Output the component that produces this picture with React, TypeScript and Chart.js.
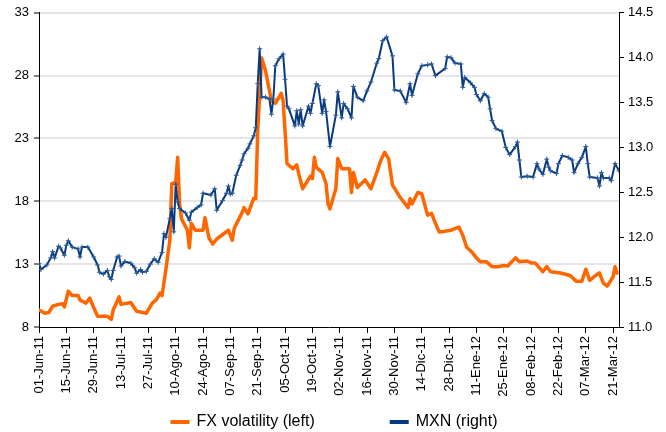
import React, { useEffect, useRef } from "react";
import { Chart, registerables } from "chart.js";

Chart.register(...registerables);

// X axis: days since 01-Jun-11, labelled every 14 days
const tickLabels = [
  "01-Jun-11", "15-Jun-11", "29-Jun-11", "13-Jul-11", "27-Jul-11", "10-Ago-11",
  "24-Ago-11", "07-Sep-11", "21-Sep-11", "05-Oct-11", "19-Oct-11", "02-Nov-11",
  "16-Nov-11", "30-Nov-11", "14-Dic-11", "28-Dic-11", "11-Ene-12", "25-Ene-12",
  "08-Feb-12", "22-Feb-12", "07-Mar-12", "21-Mar-12",
];
const tickStep = 14;
const xMaxDay = 297;

// FX volatility (left axis)
const fxDays = [
  0, 3, 5, 7, 10, 12, 13, 15, 17, 20, 21, 24, 26, 28, 30, 35, 37, 38, 41, 42,
  47, 50, 55, 58, 60, 62, 63, 65, 67, 68, 70, 71, 72, 73, 76, 77, 78, 80, 84, 85,
  87, 89, 91, 97, 99, 100, 104, 105, 107, 110, 111, 112, 114, 116, 117, 119, 121, 123, 124, 125,
  126, 127, 130, 132, 133, 135, 139, 140, 141, 142, 145, 147, 148, 149, 152, 153, 155, 159, 160, 161,
  163, 167, 170, 173, 175, 177, 179, 181, 185, 189, 190, 191, 194, 196, 199, 201, 203, 205, 211, 215,
  217, 219, 222, 224, 226, 229, 232, 235, 238, 240, 244, 246, 250, 252, 254, 258, 260, 262, 267, 272,
  275, 278, 280, 282, 285, 287, 289, 291, 294, 295, 296,
];
const fxValues = [
  9.35, 9.1, 9.15, 9.65, 9.8, 9.85, 9.6, 10.85, 10.5, 10.5, 10.15, 9.9, 10.3, 9.55, 8.85, 8.85, 8.6, 9.35, 10.4, 9.8,
  9.95, 9.25, 9.1, 9.9, 10.15, 10.7, 10.5, 12.6, 14.9, 19.4, 19.5, 21.5, 17.8, 16.6, 15.7, 14.3, 16.25, 15.7, 15.7, 16.7,
  15.1, 14.6, 15.0, 15.7, 14.9, 15.85, 17.1, 17.5, 17.0, 18.25, 18.2, 23.6, 29.4, 28.4, 27.6, 26.0, 25.8, 26.3, 26.6, 26.0,
  23.6, 21.0, 20.6, 20.9, 20.2, 19.0, 20.0, 19.8, 21.5, 20.7, 20.3, 19.4, 17.8, 17.4, 19.0, 21.4, 20.6, 20.6, 18.7, 20.3,
  19.1, 19.7, 19.0, 20.3, 21.25, 21.9, 21.4, 19.3, 18.3, 17.5, 18.2, 17.8, 18.7, 18.6, 16.9, 17.05, 16.25, 15.55, 15.7, 15.95,
  15.3, 14.35, 13.9, 13.5, 13.2, 13.2, 12.8, 12.8, 12.9, 12.85, 13.5, 13.2, 13.25, 13.1, 13.1, 12.4, 12.8, 12.4, 12.3, 12.1,
  11.65, 11.65, 12.6, 11.7, 12.1, 12.3, 11.5, 11.25, 12.0, 12.8, 12.3,
];

// MXN (right axis)
const mxnDays = [
  0, 1, 4, 6, 7, 8, 10, 11, 13, 14, 15, 17, 20, 21, 22, 25, 28, 30, 31, 33,
  35, 36, 37, 38, 40, 41, 42, 44, 47, 49, 50, 52, 53, 55, 57, 59, 61, 63, 64, 65,
  67, 68, 69, 70, 71, 72, 75, 77, 78, 81, 83, 84, 88, 90, 91, 94, 96, 97, 98, 99,
  101, 103, 104, 105, 107, 108, 110, 111, 112, 113, 114, 116, 118, 119, 120, 121, 123, 125, 126, 127,
  128, 131, 132, 133, 134, 135, 138, 139, 140, 142, 143, 145, 146, 147, 149, 152, 153, 155, 156, 158,
  160, 161, 163, 166, 168, 170, 173, 174, 176, 178, 181, 182, 185, 188, 190, 191, 194, 196, 199, 201,
  203, 208, 209, 211, 213, 216, 217, 218, 221, 223, 224, 226, 228, 230, 231, 232, 234, 237, 239, 241,
  244, 245, 246, 247, 250, 253, 255, 256, 258, 260, 261, 262, 265, 266, 268, 271, 273, 274, 276, 278,
  280, 281, 282, 286, 287, 288, 289, 292, 293, 295, 297,
];
const mxnValues = [
  11.71, 11.64, 11.69, 11.77, 11.84, 11.77, 11.9, 11.88, 11.8, 11.91, 11.96, 11.89, 11.87, 11.78, 11.89, 11.89, 11.78, 11.69, 11.61, 11.59,
  11.63, 11.56, 11.53, 11.63, 11.78, 11.79, 11.68, 11.73, 11.71, 11.66, 11.6, 11.64, 11.61, 11.62, 11.7, 11.76, 11.72, 11.83, 12.04, 12.0,
  12.21, 12.32, 12.06, 12.59, 12.39, 12.32, 12.27, 12.19, 12.28, 12.33, 12.36, 12.49, 12.47, 12.54, 12.3, 12.41, 12.49, 12.57, 12.48, 12.49,
  12.69, 12.8, 12.86, 12.93, 12.99, 13.04, 13.13, 13.22, 13.71, 14.1, 13.56, 13.56, 13.54, 13.37, 13.54, 13.91, 13.99, 14.04, 13.76, 13.46,
  13.43, 13.24, 13.41, 13.26, 13.42, 13.24, 13.46, 13.38, 13.49, 13.71, 13.69, 13.38, 13.53, 13.4, 13.01, 13.36, 13.62, 13.33, 13.49, 13.43,
  13.33, 13.68, 13.56, 13.52, 13.63, 13.73, 13.94, 13.99, 14.19, 14.23, 14.02, 13.64, 13.63, 13.5, 13.71, 13.58, 13.82, 13.91, 13.92, 13.93,
  13.8, 13.88, 14.01, 14.0, 13.94, 13.93, 13.67, 13.78, 13.72, 13.67, 13.59, 13.52, 13.6, 13.56, 13.43, 13.3, 13.21, 13.18, 13.0, 12.92,
  13.01, 13.06, 12.86, 12.67, 12.68, 12.67, 12.82, 12.76, 12.7, 12.87, 12.78, 12.74, 12.71, 12.82, 12.91, 12.89, 12.86, 12.72, 12.82, 12.89,
  13.01, 12.82, 12.67, 12.66, 12.57, 12.72, 12.66, 12.66, 12.63, 12.82, 12.74,
];

const seriesNames = ["FX volatility (left)", "MXN (right)"];
const ORANGE = "#FF6600";
const NAVY = "#073A7E";
const FONT = '"Liberation Sans", Arial, sans-serif';

const legendPlugin = {
  id: "bottomLegend",
  afterDraw(chart: any) {
    const ctx = chart.ctx as CanvasRenderingContext2D;
    ctx.save();
    ctx.font = `16px ${FONT}`;
    ctx.textBaseline = "middle";
    ctx.textAlign = "left";
    const items = [
      { text: seriesNames[0], color: ORANGE },
      { text: seriesNames[1], color: NAVY },
    ];
    const swatchW = 19;
    const gapText = 7;
    const gapItem = 75;
    const widths = items.map((it) => swatchW + gapText + ctx.measureText(it.text).width);
    const total = widths.reduce((a, b) => a + b, 0) + gapItem;
    let x = (chart.width - total) / 2 + 1;
    const y = 422;
    items.forEach((it, i) => {
      ctx.fillStyle = it.color;
      ctx.fillRect(x, y - 2, swatchW, 4);
      ctx.fillStyle = "#000";
      ctx.fillText(it.text, x + swatchW + gapText, y);
      x += widths[i] + gapItem;
    });
    ctx.restore();
  },
};

export default function App() {
  const canvasRef = useRef<HTMLCanvasElement | null>(null);

  useEffect(() => {
    const canvas = canvasRef.current;
    if (!canvas) return;
    const chart = new Chart(canvas, {
      type: "line",
      data: {
        datasets: [
          {
            label: seriesNames[0],
            data: fxDays.map((d, i) => ({ x: d, y: fxValues[i] })),
            borderColor: ORANGE,
            backgroundColor: ORANGE,
            borderWidth: 3.5,
            pointRadius: 0,
            borderJoinStyle: "round",
            borderCapStyle: "round",
            yAxisID: "y",
            order: 1,
          },
          {
            label: seriesNames[1],
            data: mxnDays.map((d, i) => ({ x: d, y: mxnValues[i] })),
            borderColor: NAVY,
            backgroundColor: NAVY,
            borderWidth: 2,
            pointStyle: "cross",
            pointRadius: 2.5,
            pointBorderWidth: 1,
            pointBorderColor: "#2E5C9A",
            pointHoverRadius: 2.5,
            borderJoinStyle: "round",
            yAxisID: "y1",
            order: 0,
          },
        ],
      },
      options: {
        responsive: false,
        animation: false,
        devicePixelRatio: 1,
        layout: { padding: { top: 12, left: 0, right: 0, bottom: 0 } },
        plugins: {
          legend: { display: false },
          tooltip: { enabled: false },
        },
        scales: {
          x: {
            type: "linear",
            min: 0,
            max: xMaxDay,
            afterBuildTicks: (scale: any) => {
              scale.ticks = tickLabels.map((_, i) => ({ value: i * tickStep }));
            },
            afterFit: (scale: any) => {
              scale.height = 105;
            },
            ticks: {
              autoSkip: false,
              minRotation: 90,
              maxRotation: 90,
              padding: 3,
              color: "#000",
              font: { family: FONT, size: 13 },
              callback: (_v: any, index: number) => tickLabels[index],
            },
            grid: {
              drawOnChartArea: false,
              drawTicks: true,
              tickLength: 6,
              tickColor: "#000",
            },
            border: { color: "#000", width: 1 },
          },
          y: {
            position: "left",
            min: 8,
            max: 33,
            afterFit: (scale: any) => {
              scale.width = 39;
            },
            ticks: {
              stepSize: 5,
              padding: 5,
              color: "#000",
              font: { family: FONT, size: 13 },
            },
            grid: {
              color: (c: any) => (c.tick && c.tick.value === 8 ? "rgba(0,0,0,0)" : "#E6E6EA"),
              lineWidth: 2,
              tickLength: 5,
              tickColor: "#000",
              tickWidth: 1,
            },
            border: { color: "#000", width: 1 },
          },
          y1: {
            position: "right",
            min: 11,
            max: 14.5,
            afterFit: (scale: any) => {
              scale.width = 47;
            },
            ticks: {
              stepSize: 0.5,
              padding: 4,
              color: "#000",
              font: { family: FONT, size: 13 },
            },
            grid: {
              drawOnChartArea: false,
              tickLength: 5,
              tickColor: "#000",
            },
            border: { color: "#000", width: 1 },
          },
        },
      } as any,
      plugins: [legendPlugin],
    });
    return () => chart.destroy();
  }, []);

  return (
    <div
      style={{
        position: "fixed",
        left: 0,
        top: 0,
        width: 666,
        height: 432,
        background: "#fff",
      }}
    >
      <canvas ref={canvasRef} width={666} height={432} style={{ display: "block" }} />
    </div>
  );
}
